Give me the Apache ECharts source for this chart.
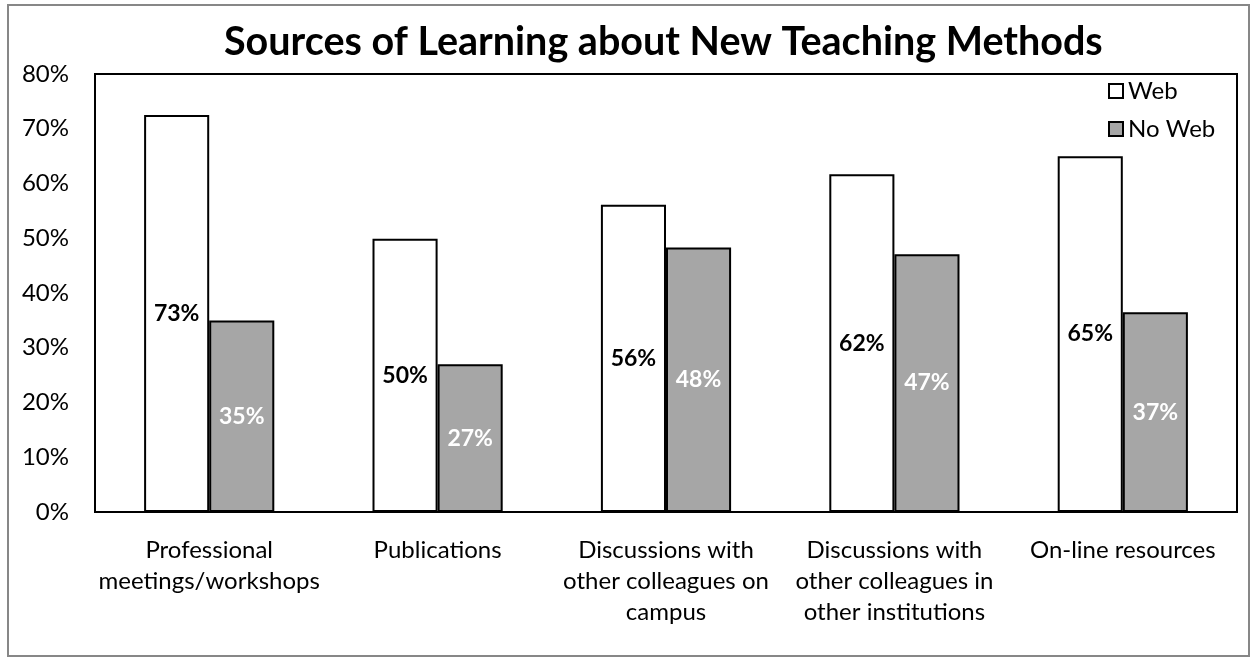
<!DOCTYPE html>
<html>
<head>
<meta charset="utf-8">
<script src="https://cdn.jsdelivr.net/npm/echarts@6/dist/echarts.min.js"></script>
<style>
html,body{margin:0;padding:0;background:#fff;}
#chart{width:1257px;height:662px;}
</style>
</head>
<body>
<div id="chart"></div>
<script>
const categories = [
  "Professional\nmeetings/workshops",
  "Publications",
  "Discussions with\nother colleagues on\ncampus",
  "Discussions with\nother colleagues in\nother institutions",
  "On-line resources"
];
const webValues = [72.5, 49.9, 56.1, 61.7, 65.0];
const noWebValues = [35.0, 27.0, 48.3, 47.1, 36.5];
const webLabels = ["73%", "50%", "56%", "62%", "65%"];
const noWebLabels = ["35%", "27%", "48%", "47%", "37%"];
const seriesNames = ["Web", "No Web"];
const titleText = "Sources of Learning about New Teaching Methods";

const FONT = "Lato";
const chart = echarts.init(document.getElementById('chart'), null, {renderer: 'canvas'});
chart.setOption({
  backgroundColor: '#fff',
  animation: false,
  title: {
    text: titleText,
    left: 224,
    top: 22,
    padding: 0,
    textStyle: {fontFamily: FONT, fontSize: 39.5, fontWeight: 'bold', color: '#000'}
  },
  legend: {
    orient: 'vertical',
    left: 1108,
    top: 79,
    padding: 0,
    itemWidth: 14,
    itemHeight: 14,
    itemGap: 14,
    icon: 'rect',
    textStyle: {fontFamily: FONT, fontSize: 24, color: '#000'},
    data: seriesNames
  },
  graphic: [{
    type: 'rect',
    shape: {x: 8, y: 5, width: 1241, height: 651},
    style: {fill: 'none', stroke: '#878787', lineWidth: 2},
    silent: true, z: -1
  }],
  grid: {
    left: 95, right: 20, top: 74, bottom: 150,
    show: true, borderColor: '#000', borderWidth: 2, backgroundColor: 'transparent'
  },
  xAxis: {
    type: 'category',
    data: categories,
    axisTick: {show: false},
    axisLine: {lineStyle: {color: '#000', width: 2}},
    axisLabel: {interval: 0, fontFamily: FONT, fontSize: 24, color: '#000', lineHeight: 31, margin: 23, verticalAlign: 'top'}
  },
  yAxis: {
    type: 'value',
    min: 0, max: 80, interval: 10,
    splitLine: {show: false},
    axisLine: {show: false},
    axisTick: {show: false},
    axisLabel: {formatter: '{value}%', fontFamily: FONT, fontSize: 24, color: '#000', margin: 26}
  },
  series: [
    {
      name: seriesNames[0], type: 'bar', data: webValues,
      barGap: '0%', barCategoryGap: '43%',
      itemStyle: {color: '#fff', borderColor: '#000', borderWidth: 2},
      label: {show: true, position: 'inside', fontFamily: FONT, fontSize: 23, fontWeight: 'bold', color: '#000',
        formatter: p => webLabels[p.dataIndex]}
    },
    {
      name: seriesNames[1], type: 'bar', data: noWebValues,
      itemStyle: {color: '#A6A6A6', borderColor: '#000', borderWidth: 2},
      label: {show: true, position: 'inside', fontFamily: FONT, fontSize: 23, fontWeight: 'bold', color: '#fff',
        formatter: p => noWebLabels[p.dataIndex]}
    }
  ]
});
</script>
</body>
</html>
